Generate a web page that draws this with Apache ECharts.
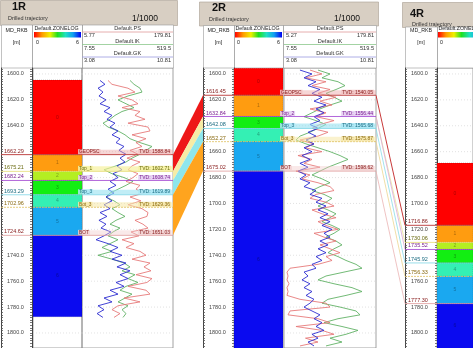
<!DOCTYPE html>
<html><head><meta charset="utf-8">
<script src="https://cdn.jsdelivr.net/npm/echarts@6/dist/echarts.min.js"></script>
<style>html,body{margin:0;padding:0;background:#fff}#c{width:473px;height:348px}</style>
</head><body><div id="c"></div>
<script>
// ---------------- data ----------------
const wellNames = ['1R', '2R', '4R'];
const scaleLabel = '1/1000';
const zoneColors = ['#ff0000', '#ff9c10', '#b4ee22', '#12ee12', '#34f0b4', '#1aa8f0', '#0a0af0'];

const depthLabels1 = [1600, 1620, 1640, 1740, 1760, 1780, 1800];
const depthLabels2 = [1600, 1620, 1660, 1680, 1700, 1720, 1740, 1760, 1780, 1800];
const depthLabels4 = [1600, 1620, 1640, 1660, 1680, 1700, 1720, 1760, 1780, 1800];
const gridDepths = [1600, 1620, 1640, 1660, 1680, 1700, 1720, 1740, 1760, 1780, 1800];

const topNames1 = ['GEOPSC', 'Top_1', 'Top_2', 'Top_3', 'Bot_3', 'BOT'];
const topMD1 = [1662.29, 1675.21, 1682.24, 1693.29, 1702.96, 1724.62];
const topTVD1 = [1588.84, 1602.71, 1608.74, 1619.89, 1629.36, 1651.03];
const topNames2 = ['GEOPSC', 'Top_2', 'Top_3', 'Bot_3', 'BOT'];
const topMD2 = [1616.45, 1632.84, 1642.08, 1652.27, 1675.02];
const topTVD2 = [1540.05, 1556.44, 1565.68, 1575.87, 1598.62];
const topNames4 = ['GEOPSC', 'Top_1', 'Top_2', 'Top_3', 'Bot_3', 'BOT'];
const topMD4 = [1716.86, 1730.06, 1735.52, 1745.92, 1756.33, 1777.30];

const zoneBounds1 = [1604.6, 1662.29, 1675.21, 1682.24, 1693.29, 1702.96, 1724.62, 1787.5];
const zoneIds1 = [0, 1, 2, 3, 4, 5, 6];
const zoneBounds2 = [1595.5, 1616.45, 1632.84, 1642.08, 1652.27, 1675.02, 1812];
const zoneIds2 = [0, 1, 3, 4, 5, 6];
const zoneBounds4 = [1668.7, 1716.86, 1730.06, 1735.52, 1745.92, 1756.33, 1777.30, 1812];
const zoneIds4 = [0, 1, 2, 3, 4, 5, 6];

const logNames = ['Default.PS', 'Default.IK', 'Default.GK'];
const logMin1 = [5.77, 7.55, 3.08];
const logMax1 = [179.81, 519.5, 10.81];
const logMin2 = [5.27, 7.55, 3.08];
const logMax2 = [179.81, 519.5, 10.81];

const depth1 = [1605,1608,1611,1614,1617,1620,1623,1626,1629,1632,1635,1638,1641,1644,1647,1650,1653,1656,1659,1662,1665,1668,1671,1674,1677,1680,1683,1686,1689,1692,1695,1698,1701,1704,1707,1710,1713,1716,1719,1722,1725,1728,1731,1734,1737,1740,1743,1746,1749,1752,1755,1758,1761,1764,1767,1770,1773,1776,1779,1782,1785,1788];
const gk1 = [4.61,5.03,4.44,4.86,4.52,5.12,4.61,5.46,4.95,5.63,5.20,5.88,5.46,6.14,5.63,6.31,5.97,6.65,6.22,6.82,6.31,6.73,6.05,6.48,5.71,6.14,5.46,5.97,5.29,5.80,5.12,5.63,4.95,5.46,4.61,5.20,4.52,5.12,4.69,5.54,4.95,4.27,5.29,6.14,5.46,6.48,5.63,6.82,6.05,7.16,6.31,6.99,5.97,6.65,5.46,6.14,4.95,5.63,4.44,4.95,4.36,4.86];
const ps1 = [55.5,63.1,93.7,107.1,74.6,101.4,112.9,82.3,116.7,107.1,126.3,93.7,132.0,135.8,101.4,128.2,109.0,120.5,97.6,112.9,91.8,116.7,101.4,93.7,112.9,103.3,89.9,116.7,109.0,124.3,97.6,118.6,93.7,120.5,132.0,130.0,107.1,122.4,132.0,99.5,114.8,82.3,105.2,89.9,116.7,128.2,101.4,135.8,124.3,137.7,109.0,139.6,130.0,93.7,128.2,135.8,86.1,116.7,74.6,63.1,78.4,67.0];
const ik1 = [277.6,300.1,333.8,345.1,266.3,210.1,255.1,300.1,232.6,193.2,165.1,125.7,153.8,210.1,249.5,277.6,333.8,401.4,367.6,333.8,288.9,255.1,198.8,131.3,176.3,243.8,294.5,255.1,210.1,165.1,142.6,187.6,221.3,176.3,210.1,249.5,198.8,165.1,221.3,181.9,153.8,210.1,165.1,120.1,176.3,97.6,176.3,243.8,277.6,232.6,305.7,266.3,322.6,255.1,221.3,288.9,249.5,210.1,266.3,232.6,255.1,238.2];

const depth2 = [1597,1600,1603,1606,1609,1612,1615,1618,1621,1624,1627,1630,1633,1636,1639,1642,1645,1648,1651,1654,1657,1660,1663,1666,1669,1672,1675,1678,1681,1684,1687,1690,1693,1696,1699,1702,1705,1708,1711,1714,1717,1720,1723,1726,1729,1732,1735,1738,1741,1744,1747,1750,1753,1756,1759,1762,1765,1768,1771,1774,1777,1780,1783,1786,1789,1792,1795,1798,1801,1804,1807,1810];
const gk2 = [4.42,5.43,4.76,5.77,5.10,6.10,5.43,6.27,5.60,6.61,5.77,6.44,5.60,6.10,5.26,5.94,5.10,5.77,4.93,5.60,4.76,5.43,4.59,5.26,4.42,5.10,4.26,4.93,4.42,5.26,4.76,5.77,5.26,6.27,5.77,6.61,5.94,6.78,6.10,6.95,6.27,7.11,6.44,6.95,6.10,6.78,5.94,6.61,5.77,6.27,5.43,5.77,4.76,5.10,4.59,5.26,4.76,5.43,4.93,5.60,5.26,4.76,5.43,6.10,5.60,6.27,5.77,6.44,5.43,5.94,5.10,5.60];
const ps2 = [54.6,77.4,46.0,85.0,58.4,92.6,69.8,104.0,73.6,96.4,54.6,85.0,66.0,100.2,73.6,58.4,88.8,69.8,35.6,62.2,46.0,77.4,31.8,58.4,43.2,73.6,28.0,54.6,39.4,69.8,92.6,100.2,66.0,54.6,85.0,100.2,58.4,77.4,104.0,69.8,85.0,107.7,62.2,81.2,104.0,73.6,92.6,111.5,85.0,96.4,69.8,16.7,11.0,12.9,11.0,14.8,11.0,12.9,11.0,35.6,85.0,92.6,16.7,12.9,69.8,92.6,28.0,77.4,100.2,46.0,69.8,35.6];
const ik2 = [196.8,263.5,219.0,308.1,347.0,296.9,241.3,285.8,330.3,263.5,207.9,163.4,118.9,185.6,241.3,196.8,152.2,96.6,74.3,130.0,196.8,263.5,319.2,363.7,308.1,252.4,207.9,163.4,219.0,263.5,207.9,163.4,230.2,274.7,241.3,196.8,252.4,296.9,263.5,219.0,274.7,319.2,285.8,241.3,296.9,330.3,285.8,252.4,308.1,352.6,408.2,441.6,341.5,241.3,196.8,285.8,386.0,441.6,352.6,252.4,219.0,319.2,408.2,430.5,308.1,230.2,330.3,419.4,352.6,263.5,330.3,241.3];

const corr12Left = [[1662.29, 1675.21], [1675.21, 1682.24], [1682.24, 1693.29], [1693.29, 1724.62]];
const corr12Right = [[1616.45, 1632.84], [1632.84, 1642.08], [1642.08, 1652.27], [1652.27, 1675.02]];
const corr12Colors = ['#ee1818', '#f6eca6', '#8ee6ec', '#ffa41e'];
const corr24Left = [1616.45, 1632.84, 1632.84, 1642.08, 1652.27, 1675.02];
const corr24Right = [1716.86, 1730.06, 1735.52, 1745.92, 1756.33, 1777.30];
const corr24Colors = ['#c83a3a', '#ece49a', '#d8a8d8', '#8adbe8', '#ecd690', '#ebb4b4'];

// ---------------- styles / layout ----------------
const FF = '"Liberation Sans", Arial, sans-serif';
const DEPTH_MIN = 1595.4, DEPTH_MAX = 1811.6, GRID_TOP = 68, GRID_H = 280;
const curveColors = ['#e67a7a', '#62b266', '#2c2cd0'];
const headerLineColors = ['#e09a9a', '#8cc88c', '#9a9ae0'];
const topStyle = {
  GEOPSC: {line: '#c04848', band: 'rgba(236,165,165,0.45)', text: '#8a2020', bg: 'rgba(242,196,196,0.85)', w: 1},
  Top_1: {line: '#e6dc74', band: 'rgba(246,240,150,0.65)', text: '#6a6a10', bg: 'rgba(246,242,165,0.85)'},
  Top_2: {line: '#a040d0', band: null, text: '#7a2090', bg: 'rgba(228,205,242,0.85)'},
  Top_3: {line: '#7ed6e6', band: 'rgba(150,225,240,0.6)', text: '#1a6a80', bg: 'rgba(172,232,246,0.85)'},
  Bot_3: {line: '#e0c060', band: 'rgba(246,232,165,0.55)', text: '#8a6a10', bg: 'rgba(246,232,172,0.85)', dash: [2, 1]},
  BOT: {line: '#e09a9a', band: 'rgba(240,200,200,0.4)', text: '#8a2020', bg: 'rgba(242,208,208,0.85)'}
};
const L1 = {hx: 0, hy: 0, hw: 177, hb: 25, nameX: 12, nameY: 6.5, subX: 8, subY: 18.5, scaleR: 158, dL: 1, dR: 32, zL: 33, zR: 82, lL: 82, lR: 173};
const L2 = {hx: 199, hy: 1.5, hw: 179, hb: 25.5, nameX: 212, nameY: 7.5, subX: 209, subY: 19, scaleR: 360, dL: 203, dR: 234, zL: 234, zR: 283, lL: 284, lR: 376};
const L4 = {hx: 402, hy: 2, hw: 100, hb: 27, nameX: 410, nameY: 14, subX: 412, subY: 24, scaleR: 562, dL: 405, dR: 437, zL: 437, zR: 486};

const grids = [], xAxes = [], yAxes = [], series = [], graphics = [];

function addGrid(left, width, xmin, xmax, gridExtra) {
  const gi = grids.length;
  grids.push(Object.assign({left, top: GRID_TOP, width, height: GRID_H, show: false}, gridExtra || {}));
  xAxes.push({gridIndex: gi, type: 'value', min: xmin, max: xmax, show: false});
  yAxes.push({gridIndex: gi, type: 'value', inverse: true, min: DEPTH_MIN, max: DEPTH_MAX, show: false});
  return {gi, xi: xAxes.length - 1, yi: yAxes.length - 1};
}
const minorTicks = [];
for (let d = 1596; d <= 1811; d += 2) minorTicks.push(d);

function depthTrack(L, labels) {
  const g = addGrid(L.dL, L.dR - L.dL, 0, 1);
  yAxes[g.yi] = {
    gridIndex: g.gi, type: 'value', inverse: true, min: DEPTH_MIN, max: DEPTH_MAX, position: 'left',
    axisLine: {show: true, onZero: false, lineStyle: {color: '#444', width: 1}},
    axisTick: {show: true, inside: true, length: 2, customValues: minorTicks, lineStyle: {color: '#555', width: 0.8}},
    axisLabel: {show: true, inside: true, margin: 6, customValues: labels, fontSize: 5.5, fontFamily: FF, color: '#444',
      formatter: v => Number(v).toFixed(1)},
    splitLine: {show: false}
  };
  yAxes.push({
    gridIndex: g.gi, type: 'value', inverse: true, min: DEPTH_MIN, max: DEPTH_MAX, position: 'right',
    axisLine: {show: true, onZero: false, lineStyle: {color: '#444', width: 1}},
    axisTick: {show: true, inside: true, length: 2, customValues: minorTicks, lineStyle: {color: '#555', width: 0.8}},
    axisLabel: {show: false}, splitLine: {show: false}
  });
  return g;
}

function gridLineSeries(g) {
  return {type: 'custom', xAxisIndex: g.xi, yAxisIndex: g.yi, z: 1, silent: true, clip: true,
    data: gridDepths.map(d => [0, d]), encode: {x: 0, y: 1},
    renderItem(p, api) {
      const a = api.coord([0, api.value(1)]), b = api.coord([1, api.value(1)]);
      return {type: 'line', shape: {x1: a[0], y1: a[1], x2: b[0], y2: a[1]}, style: {stroke: '#cfcfcf', lineWidth: 0.6, lineDash: [1, 2]}};
    }};
}

function zoneSeries(g, bounds, ids) {
  return {type: 'custom', xAxisIndex: g.xi, yAxisIndex: g.yi, z: 2, silent: true, clip: true,
    data: ids.map((id, i) => [0, bounds[i], bounds[i + 1], id]), encode: {x: 0, y: [1, 2]},
    renderItem(p, api) {
      const a = api.coord([0, api.value(1)]), b = api.coord([1, api.value(2)]);
      const id = api.value(3);
      return {type: 'group', children: [
        {type: 'rect', shape: {x: a[0], y: a[1], width: b[0] - a[0], height: b[1] - a[1]},
          style: {fill: zoneColors[id], stroke: 'rgba(0,0,0,0.35)', lineWidth: 0.5, lineDash: [1, 1]}},
        {type: 'text', x: (a[0] + b[0]) / 2, y: (a[1] + b[1]) / 2,
          style: {text: String(id), fontSize: 5, fontFamily: FF, fill: 'rgba(0,0,0,0.35)', align: 'center', verticalAlign: 'middle'}}
      ]};
    }};
}

function topsSeries(g, names, mds, tvds, mode) {
  return {type: 'custom', xAxisIndex: g.xi, yAxisIndex: g.yi, z: 6, silent: true, clip: false,
    data: mds.map((d, i) => [0, d, i]), encode: {x: 0, y: 1},
    renderItem(p, api) {
      const i = api.value(2), d = api.value(1);
      const a = api.coord([0, d]), b = api.coord([1, d]);
      const st = topStyle[names[i]];
      const ch = [];
      if (mode === 'log' && st.band) ch.push({type: 'rect', shape: {x: a[0], y: a[1] - 5, width: b[0] - a[0], height: 5}, style: {fill: st.band}});
      ch.push({type: 'line', shape: {x1: a[0], y1: a[1], x2: b[0], y2: a[1]}, style: {stroke: st.line, lineWidth: st.w || 0.8, lineDash: st.dash || null}});
      if (mode === 'depth') ch.push({type: 'text', x: a[0] + 3, y: a[1] - 0.5,
        style: {text: d.toFixed(2), fill: st.text, fontSize: 5.5, fontFamily: FF, align: 'left', verticalAlign: 'bottom'}});
      if (mode === 'log') {
        ch.push({type: 'text', x: a[0] - 4, y: a[1] - 0.5,
          style: {text: names[i], fill: st.text, fontSize: 4.8, fontFamily: FF, align: 'left', verticalAlign: 'bottom', backgroundColor: st.bg, padding: [0, 1]}});
        ch.push({type: 'text', x: b[0] - 2, y: a[1] - 0.5,
          style: {text: 'TVD: ' + tvds[i].toFixed(2), fill: st.text, fontSize: 5, fontFamily: FF, align: 'right', verticalAlign: 'bottom', backgroundColor: st.bg, padding: [0, 1]}});
      }
      return {type: 'group', children: ch};
    }};
}

function curveSeries(L, depths, vals, mins, maxs, k) {
  const g = addGrid(L.lL, L.lR - L.lL, mins[k], maxs[k]);
  return {type: 'line', xAxisIndex: g.xi, yAxisIndex: g.yi, z: 4, silent: true, clip: true, animation: false,
    symbol: 'none', showSymbol: false, data: depths.map((d, i) => [vals[i], d]),
    lineStyle: {color: curveColors[k], width: 0.9}};
}

// ---------- well 1R ----------
const d1 = depthTrack(L1, depthLabels1);
const z1 = addGrid(L1.zL, L1.zR - L1.zL, 0, 1, {show: true, borderColor: '#8a8a8a', borderWidth: 0.8});
const l1 = addGrid(L1.lL, L1.lR - L1.lL, 0, 1, {show: true, borderColor: '#8a8a8a', borderWidth: 0.8});
series.push(gridLineSeries(z1), gridLineSeries(l1), zoneSeries(z1, zoneBounds1, zoneIds1));
series.push(curveSeries(L1, depth1, ik1, logMin1, logMax1, 1));
series.push(curveSeries(L1, depth1, ps1, logMin1, logMax1, 0));
series.push(curveSeries(L1, depth1, gk1, logMin1, logMax1, 2));
series.push(topsSeries(d1, topNames1, topMD1, topTVD1, 'depth'), topsSeries(z1, topNames1, topMD1, topTVD1, 'zone'), topsSeries(l1, topNames1, topMD1, topTVD1, 'log'));

// ---------- correlation 1R-2R ----------
const c12 = addGrid(L1.lR, L2.dL - L1.lR, 0, 1);
series.push({type: 'custom', xAxisIndex: c12.xi, yAxisIndex: c12.yi, z: 3, silent: true, clip: true,
  data: corr12Left.map((l, i) => [0, l[0], l[1], corr12Right[i][0], corr12Right[i][1], i]), encode: {x: 0, y: [1, 2, 3, 4]},
  renderItem(p, api) {
    const pts = [api.coord([0, api.value(1)]), api.coord([1, api.value(3)]), api.coord([1, api.value(4)]), api.coord([0, api.value(2)])];
    return {type: 'polygon', shape: {points: pts}, style: {fill: corr12Colors[api.value(5)]}};
  }});

// ---------- well 2R ----------
const d2 = depthTrack(L2, depthLabels2);
const z2 = addGrid(L2.zL, L2.zR - L2.zL, 0, 1, {show: true, borderColor: '#8a8a8a', borderWidth: 0.8});
const l2 = addGrid(L2.lL, L2.lR - L2.lL, 0, 1, {show: true, borderColor: '#8a8a8a', borderWidth: 0.8});
series.push(gridLineSeries(z2), gridLineSeries(l2), zoneSeries(z2, zoneBounds2, zoneIds2));
series.push(curveSeries(L2, depth2, ik2, logMin2, logMax2, 1));
series.push(curveSeries(L2, depth2, ps2, logMin2, logMax2, 0));
series.push(curveSeries(L2, depth2, gk2, logMin2, logMax2, 2));
series.push(topsSeries(d2, topNames2, topMD2, topTVD2, 'depth'), topsSeries(z2, topNames2, topMD2, topTVD2, 'zone'), topsSeries(l2, topNames2, topMD2, topTVD2, 'log'));

// ---------- correlation 2R-4R ----------
const c24 = addGrid(L2.lR, L4.dL - L2.lR, 0, 1);
series.push({type: 'custom', xAxisIndex: c24.xi, yAxisIndex: c24.yi, z: 3, silent: true, clip: true,
  data: corr24Left.map((l, i) => [0, l, corr24Right[i], i]), encode: {x: 0, y: [1, 2]},
  renderItem(p, api) {
    const a = api.coord([0, api.value(1)]), b = api.coord([1, api.value(2)]);
    const i = api.value(3);
    return {type: 'line', shape: {x1: a[0], y1: a[1], x2: b[0], y2: b[1]}, style: {stroke: corr24Colors[i], lineWidth: i === 0 ? 1 : 0.8}};
  }});

// ---------- well 4R ----------
const d4 = depthTrack(L4, depthLabels4);
const z4 = addGrid(L4.zL, L4.zR - L4.zL, 0, 1, {show: true, borderColor: '#8a8a8a', borderWidth: 0.8});
series.push(gridLineSeries(z4), zoneSeries(z4, zoneBounds4, zoneIds4));
series.push(topsSeries(d4, topNames4, topMD4, null, 'depth'), topsSeries(z4, topNames4, topMD4, null, 'zone'));

// ---------- headers ----------
function txt(x, y, text, size, opts) {
  return {type: 'text', x, y, silent: true,
    style: Object.assign({text, fontSize: size, fontFamily: FF, fill: '#222', align: 'left', verticalAlign: 'middle'}, opts || {})};
}
function ln(x1, y1, x2, y2, color, w) {
  return {type: 'line', silent: true, shape: {x1, y1, x2, y2}, style: {stroke: color, lineWidth: w || 0.8}};
}
function header(L, name, mins, maxs) {
  const els = [];
  els.push({type: 'rect', silent: true, shape: {x: L.hx + 0.5, y: L.hy + 0.5, width: L.hw, height: L.hb - L.hy},
    style: {fill: '#d8cfc3', stroke: '#a79e91', lineWidth: 0.6}});
  els.push(txt(L.nameX, L.nameY, name, 11, {fontWeight: 'bold', fill: '#111'}));
  els.push(txt(L.subX, L.subY, 'Drilled trajectory', 5.5, {fill: '#333'}));
  els.push(txt(L.scaleR, L.subY, scaleLabel, 8.5, {align: 'right', fill: '#111'}));
  const right = L.lR || L.zR;
  els.push({type: 'rect', silent: true, shape: {x: L.dL + 0.5, y: L.hb, width: right - L.dL, height: GRID_TOP - L.hb},
    style: {fill: '#fff', stroke: '#999', lineWidth: 0.6}});
  els.push(ln(L.dR + 0.5, L.hb, L.dR + 0.5, GRID_TOP, '#888', 0.7));
  if (L.lR) els.push(ln(L.zR + 0.5, L.hb, L.zR + 0.5, GRID_TOP, '#888', 0.7));
  const dc = (L.dL + L.dR) / 2;
  els.push(txt(dc, 30.5, 'MD_RKB', 5.3, {align: 'center'}));
  els.push(txt(dc, 43, '[m]', 5.3, {align: 'center'}));
  els.push(txt(L.zL + 1.5, 28.5, 'Default.ZONELOG', 5.3));
  els.push({type: 'rect', silent: true, shape: {x: L.zL + 1, y: 32, width: L.zR - L.zL - 2, height: 5.5},
    style: {fill: new echarts.graphic.LinearGradient(0, 0, 1, 0, [
      {offset: 0, color: '#ff0000'}, {offset: 0.17, color: '#ff9a00'}, {offset: 0.34, color: '#f0f000'},
      {offset: 0.5, color: '#20e020'}, {offset: 0.67, color: '#20e0c0'}, {offset: 0.83, color: '#10a0f0'}, {offset: 1, color: '#0000f0'}])}});
  els.push(txt(L.zL + 3, 42.5, '0', 5.3));
  els.push(txt(L.zR - 3, 42.5, '6', 5.3, {align: 'right'}));
  if (L.lR) {
    const lc = (L.lL + L.lR) / 2;
    const nameY = [28.5, 41.5, 53.5], lineY = [32, 44.5, 57], valY = [35.5, 48, 60.5];
    for (let k = 0; k < 3; k++) {
      els.push(txt(lc, nameY[k], logNames[k], 5.6, {align: 'center', fill: '#333'}));
      els.push(ln(L.lL, lineY[k], L.lR, lineY[k], headerLineColors[k], 0.8));
      els.push(txt(L.lL + 2, valY[k], String(mins[k]), 5.6, {fill: '#333'}));
      els.push(txt(L.lR - 2, valY[k], String(maxs[k]), 5.6, {align: 'right', fill: '#333'}));
    }
  }
  return els;
}
graphics.push(...header(L1, wellNames[0], logMin1, logMax1));
graphics.push(...header(L2, wellNames[1], logMin2, logMax2));
graphics.push(...header(L4, wellNames[2], null, null));

const chart = echarts.init(document.getElementById('c'), null, {renderer: 'canvas'});
chart.setOption({
  animation: false,
  backgroundColor: '#fff',
  grid: grids, xAxis: xAxes, yAxis: yAxes, series,
  graphic: {elements: graphics}
});
</script></body></html>
